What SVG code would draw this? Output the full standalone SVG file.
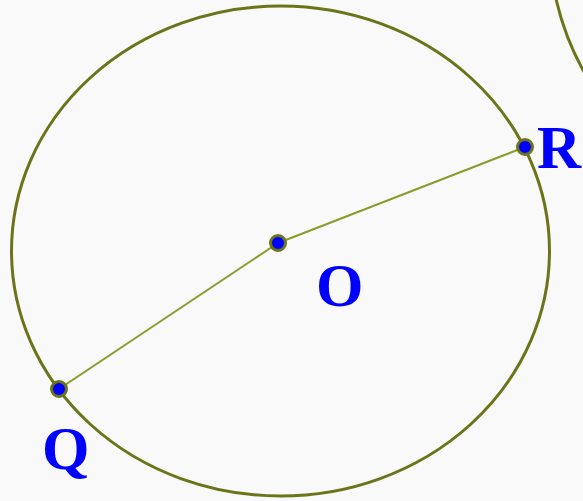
<svg xmlns="http://www.w3.org/2000/svg" width="583" height="501" viewBox="0 0 583 501">
  <style>
    .curve { fill: none; stroke: #6b7419; stroke-width: 3; }
    .seg { fill: none; stroke: #8c9a2c; stroke-width: 2; }
    .pt { fill: #0000ff; stroke: #6b7419; stroke-width: 3; }
    .lbl { font-family: "Liberation Serif", "Times New Roman", serif; font-weight: bold; font-size: 61px; fill: #0000ff; }
  </style>
  <rect width="583" height="501" fill="#f9f9f9"/>
  <g id="curves">
    <ellipse id="circle" class="curve" cx="280.5" cy="251" rx="269" ry="245"/>
    <path id="arc2" class="curve" d="M556,-1 Q565,38 584,72"/>
  </g>
  <g id="connectors">
    <line class="seg" x1="278" y1="243" x2="525" y2="147"/>
    <line class="seg" x1="278" y1="243" x2="59" y2="389"/>
  </g>
  <g id="node-O">
    <circle class="pt" cx="278" cy="243" r="7.5"/>
    <text class="lbl" x="316" y="306">O</text>
  </g>
  <g id="node-R">
    <circle class="pt" cx="525" cy="147" r="7.5"/>
    <text class="lbl" x="537" y="168">R</text>
  </g>
  <g id="node-Q">
    <circle class="pt" cx="59" cy="389" r="7.5"/>
    <text class="lbl" x="42" y="469">Q</text>
  </g>
</svg>
